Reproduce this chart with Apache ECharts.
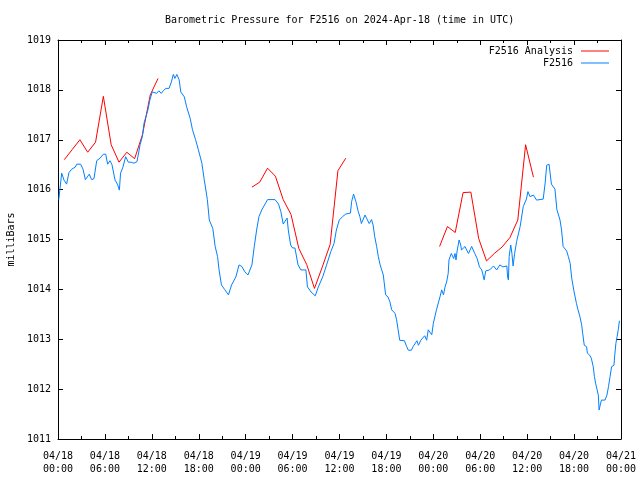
<!DOCTYPE html>
<html>
<head>
<meta charset="utf-8">
<script src="https://cdn.jsdelivr.net/npm/echarts@6/dist/echarts.min.js"></script>
<style>html,body{margin:0;padding:0;background:#fff}#c{width:640px;height:480px}</style>
</head>
<body>
<div id="c"></div>
<script>
// Hours since 2024-04-18 00:00 UTC
const xTickLabels = ['04/18\n00:00','04/18\n06:00','04/18\n12:00','04/18\n18:00','04/19\n00:00','04/19\n06:00','04/19\n12:00','04/19\n18:00','04/20\n00:00','04/20\n06:00','04/20\n12:00','04/20\n18:00','04/21\n00:00'];
const yTickValues = [1011,1012,1013,1014,1015,1016,1017,1018,1019];

const analysisHours = [0.8,1.8,2.8,3.8,4.8,5.8,6.8,7.8,8.8,9.8,10.8,11.8,12.8, 18.8,
  24.8,25.8,26.8,27.8,28.8,29.8,30.8,31.8,32.8,33.8,34.8,35.8,36.8, 42.8,
  48.8,49.8,50.8,51.8,52.8,53.8,54.8,55.8,56.8,57.8,58.8,59.8,60.8];
const analysisPressure = [1016.6,1016.8,1017.0,1016.75,1016.95,1017.87,1016.9,1016.55,1016.75,1016.62,1017.1,1017.9,1018.23, null,
  1016.05,1016.15,1016.43,1016.27,1015.8,1015.5,1014.82,1014.5,1014.02,1014.45,1014.9,1016.38,1016.63, null,
  1014.86,1015.26,1015.14,1015.94,1015.95,1015.02,1014.57,1014.72,1014.85,1015.04,1015.39,1016.9,1016.25];

const blueHours = [0.1,0.47,0.77,1.1,1.4,1.75,2.2,2.4,2.9,3.2,3.5,3.75,4.0,4.3,4.6,4.95,5.37,5.8,6.1,6.35,6.65,6.9,7.3,7.6,7.85,8.0,8.3,8.65,9.0,9.35,9.7,10.1,10.5,10.8,11.0,11.5,11.75,12.06,12.3,12.6,12.9,13.2,13.5,13.8,14.2,14.5,14.75,14.95,15.2,15.5,15.7,16.15,16.45,16.9,17.2,17.6,17.95,18.4,18.7,19.1,19.35,19.8,20.1,20.4,20.6,20.9,21.3,21.8,22.2,22.75,23.15,23.5,23.9,24.3,24.8,25.1,25.4,25.7,26.05,26.3,26.8,27.75,28.2,28.5,28.8,29.05,29.3,29.45,29.75,30.0,30.3,30.7,31.07,31.7,31.9,32.35,32.9,33.3,33.85,34.35,34.9,35.3,35.6,35.97,36.4,36.8,37.4,37.55,37.8,38.1,38.4,38.6,38.8,39.26,39.8,40.1,40.3,40.5,40.75,40.96,41.2,41.4,41.6,41.9,42.2,42.45,42.67,43.1,43.3,43.5,43.7,44.3,44.6,44.8,45.2,45.4,45.9,46.1,46.4,46.9,47.15,47.35,47.8,48.0,48.4,48.85,49.07,49.3,49.5,49.7,49.9,50.0,50.3,50.6,50.77,50.9,51.06,51.3,51.5,51.6,51.8,52.05,52.26,52.5,52.9,53.3,53.6,53.9,54.2,54.5,54.7,55.2,55.7,56.1,56.5,56.9,57.4,57.5,57.6,57.7,57.9,58.05,58.2,58.4,58.65,59.1,59.5,59.9,60.1,60.36,60.8,61.2,62.05,62.3,62.5,62.8,63.1,63.55,63.8,64.0,64.2,64.4,64.6,65.05,65.26,65.5,65.7,66.0,66.3,66.5,66.75,66.97,67.1,67.3,67.6,67.7,68.0,68.2,68.45,68.6,68.75,68.9,69.1,69.2,69.4,69.5,69.95,70.2,70.4,70.6,70.8,71.1,71.2,71.35,71.5,71.65,71.8];
const bluePressure = [1015.8,1016.33,1016.19,1016.11,1016.34,1016.41,1016.45,1016.51,1016.51,1016.41,1016.2,1016.2,1016.31,1016.2,1016.22,1016.58,1016.63,1016.71,1016.71,1016.51,1016.58,1016.5,1016.19,1016.11,1015.99,1016.33,1016.45,1016.66,1016.55,1016.55,1016.53,1016.56,1016.9,1017.07,1017.33,1017.6,1017.8,1017.96,1018.0,1017.93,1017.98,1017.93,1017.99,1018.03,1018.03,1018.16,1018.31,1018.23,1018.31,1018.2,1017.96,1017.86,1017.66,1017.43,1017.2,1017.0,1016.8,1016.53,1016.2,1015.8,1015.39,1015.22,1014.86,1014.66,1014.39,1014.09,1014.0,1013.89,1014.09,1014.25,1014.49,1014.46,1014.35,1014.29,1014.49,1014.86,1015.19,1015.46,1015.59,1015.63,1015.8,1015.8,1015.71,1015.56,1015.31,1015.31,1015.43,1015.19,1014.89,1014.83,1014.83,1014.49,1014.39,1014.39,1014.05,1013.95,1013.87,1014.05,1014.25,1014.49,1014.76,1014.92,1015.19,1015.39,1015.46,1015.51,1015.53,1015.76,1015.91,1015.76,1015.56,1015.46,1015.32,1015.49,1015.32,1015.40,1015.29,1015.06,1014.86,1014.66,1014.49,1014.39,1014.29,1013.89,1013.85,1013.75,1013.59,1013.52,1013.39,1013.19,1012.98,1012.97,1012.85,1012.78,1012.78,1012.85,1012.97,1012.88,1012.98,1013.07,1012.98,1013.19,1013.09,1013.32,1013.59,1013.85,1013.99,1013.89,1014.05,1014.15,1014.32,1014.59,1014.72,1014.62,1014.72,1014.59,1014.79,1014.99,1014.89,1014.79,1014.79,1014.86,1014.79,1014.72,1014.86,1014.72,1014.62,1014.45,1014.39,1014.19,1014.37,1014.39,1014.47,1014.39,1014.49,1014.45,1014.47,1014.25,1014.19,1014.66,1014.89,1014.72,1014.47,1014.72,1014.96,1015.26,1015.66,1015.81,1015.96,1015.86,1015.89,1015.79,1015.81,1016.13,1016.49,1016.51,1016.11,1016.01,1015.6,1015.59,1015.39,1015.19,1014.86,1014.77,1014.66,1014.52,1014.22,1013.95,1013.72,1013.59,1013.45,1013.29,1013.12,1012.88,1012.85,1012.72,1012.68,1012.62,1012.45,1012.25,1012.12,1012.08,1011.88,1011.58,1011.72,1011.78,1011.78,1011.88,1012.05,1012.25,1012.45,1012.48,1012.68,1012.92,1013.05,1013.19,1013.37];

const FONT = 'DejaVu Sans Mono';
const analysisData = analysisHours.map((h, i) => [h, analysisPressure[i] === null ? '-' : analysisPressure[i]]);
const blueData = blueHours.map((h, i) => [h, bluePressure[i]]);

const xBase = {
  type: 'value', min: 0, max: 72, interval: 6,
  axisLine: { show: true, onZero: false, lineStyle: { color: '#000', width: 1 } },
  axisTick: { show: true, inside: true, length: 5, lineStyle: { color: '#000' } },
  minorTick: { show: true, splitNumber: 2, length: 3, lineStyle: { color: '#000' } },
  splitLine: { show: false }
};
const yBase = {
  type: 'value', min: yTickValues[0], max: yTickValues[yTickValues.length - 1], interval: 1,
  axisLine: { show: true, onZero: false, lineStyle: { color: '#000', width: 1 } },
  axisTick: { show: true, inside: true, length: 5, lineStyle: { color: '#000' } },
  splitLine: { show: false }
};
const legendText = { fontFamily: FONT, fontSize: 10, color: '#000', padding: [0, 3, 0, 0] };

const chart = echarts.init(document.getElementById('c'), null, { renderer: 'canvas' });
chart.setOption({
  animation: false,
  backgroundColor: '#fff',
  title: {
    text: 'Barometric Pressure for F2516 on 2024-Apr-18 (time in UTC)',
    left: 165, top: 15, padding: 0,
    textStyle: { fontFamily: FONT, fontSize: 10, fontWeight: 'normal', color: '#000' }
  },
  grid: { left: 58, right: 19, top: 40, bottom: 41, containLabel: false, outerBoundsMode: 'none' },
  legend: [
    { data: ['F2516 Analysis'], right: 31, top: 46, padding: 0, align: 'right', icon: 'rect', itemWidth: 28, itemHeight: 1, itemGap: 0, textStyle: legendText },
    { data: ['F2516'], right: 31, top: 58, padding: 0, align: 'right', icon: 'rect', itemWidth: 28, itemHeight: 1, itemGap: 0, textStyle: legendText }
  ],
  xAxis: [
    Object.assign({}, xBase, {
      position: 'bottom',
      axisLabel: { show: true, formatter: v => xTickLabels[Math.round(v / 6)], fontFamily: FONT, fontSize: 10, color: '#000', lineHeight: 13, margin: 11 }
    }),
    Object.assign({}, xBase, { position: 'top', axisLabel: { show: false } })
  ],
  yAxis: [
    Object.assign({}, yBase, {
      position: 'left',
      name: 'milliBars', nameLocation: 'middle', nameGap: 39, nameRotate: 90,
      nameTextStyle: { fontFamily: FONT, fontSize: 10, color: '#000' },
      axisLabel: { show: true, formatter: v => String(v), fontFamily: FONT, fontSize: 10, color: '#000', margin: 7 }
    }),
    Object.assign({}, yBase, { position: 'right', axisLabel: { show: false } })
  ],
  series: [
    { name: 'F2516 Analysis', type: 'line', data: analysisData, showSymbol: false, symbol: 'none', connectNulls: false,
      color: '#ff0000', lineStyle: { color: '#ff0000', width: 1 }, itemStyle: { color: '#ff0000' } },
    { name: 'F2516', type: 'line', data: blueData, showSymbol: false, symbol: 'none',
      color: '#0080ff', lineStyle: { color: '#0080ff', width: 1 }, itemStyle: { color: '#0080ff' } }
  ]
});
</script>
</body>
</html>
